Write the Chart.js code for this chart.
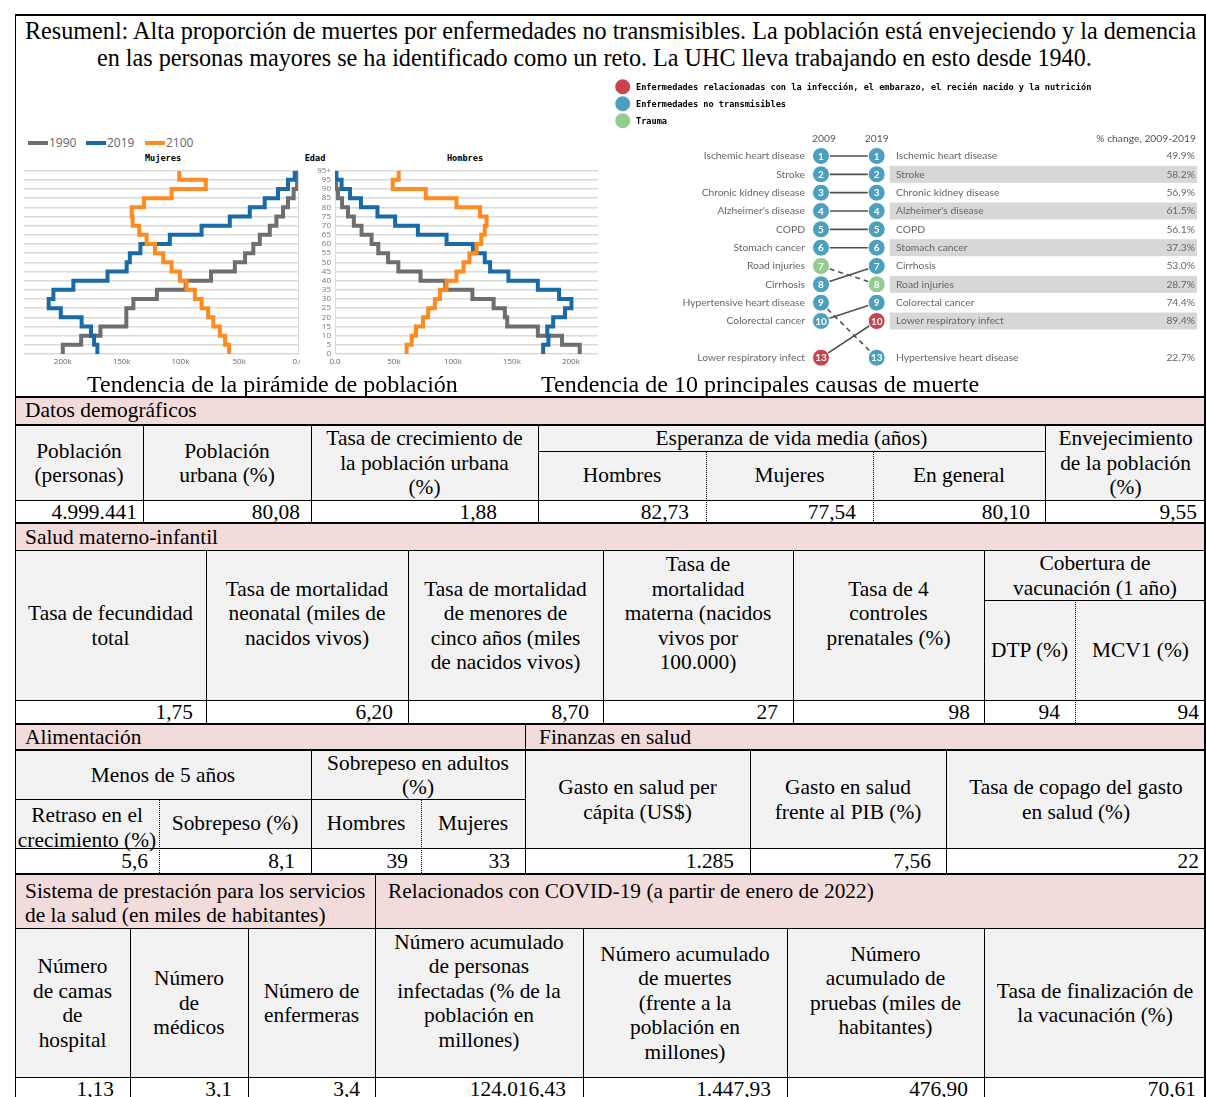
<!DOCTYPE html>
<html lang="es">
<head>
<meta charset="utf-8">
<title>Resumen de salud</title>
<script src="https://cdn.jsdelivr.net/npm/chart.js@4.4.1/dist/chart.umd.min.js"></script>
<style>
  html, body { margin: 0; padding: 0; background: #fff; }
  body { width: 1206px; height: 1097px; position: relative; overflow: hidden;
         font-family: "Liberation Serif", "Times New Roman", serif; color: #000; }
  .abs { position: absolute; }
  .cell { position: absolute; display: flex; align-items: center; justify-content: center;
          text-align: center; font-size: 21.4px; line-height: 24.5px; }
  .val { position: absolute; font-size: 21.4px; text-align: right; white-space: nowrap; }
  .sec { position: absolute; font-size: 21.4px; line-height: 23.5px; white-space: nowrap; }
  .ttl { position: absolute; white-space: nowrap; line-height: 27px; }
  .cap { position: absolute; font-size: 24px; white-space: nowrap; line-height: 24px; }
  .pix { position: absolute; font: bold 8.6px "DejaVu Sans Mono", monospace; text-align: center; }
  .lgt { position: absolute; font: 12px "Open Sans", sans-serif; color: #666; line-height: 14px; }
  .sw { position: absolute; width: 20px; height: 4px; }
  .chart { position: absolute; }
</style>
</head>
<body>
<div id="tbl"></div>

<!-- population pyramid -->
<div class="sw" style="left:28px;top:141px;background:#6e6e6e"></div>
<div class="lgt" style="left:49px;top:136px">1990</div>
<div class="sw" style="left:86px;top:141px;background:#1a6aa8"></div>
<div class="lgt" style="left:107px;top:136px">2019</div>
<div class="sw" style="left:145px;top:141px;background:#ff8a1f"></div>
<div class="lgt" style="left:166px;top:136px">2100</div>
<div class="pix" style="left:123px;top:153px;width:80px">Mujeres</div>
<div class="pix" style="left:295px;top:153px;width:40px">Edad</div>
<div class="pix" style="left:425px;top:153px;width:80px">Hombres</div>
<div class="chart" style="left:20px;top:160px;width:280px;height:212px"><canvas id="pyrF"></canvas></div>
<div class="chart" style="left:300px;top:160px;width:300px;height:212px"><canvas id="pyrM"></canvas></div>

<!-- top causes of death -->
<div class="chart" style="left:600px;top:75px;width:606px;height:297px"><canvas id="bump"></canvas></div>

<div class="cap" style="left:87px;top:372px">Tendencia de la pirámide de población</div>
<div class="cap" style="left:541px;top:372px">Tendencia de 10 principales causas de muerte</div>

<script>
// ---------- data ----------
const titleLines = [
  'Resumenl: Alta proporción de muertes por enfermedades no transmisibles. La población está envejeciendo y la demencia',
  'en las personas mayores se ha identificado como un reto. La UHC lleva trabajando en esto desde 1940.'
];

// age bands 0-4 ... 90-94, 95+ (thousands of people)
const ageLabels = ['0', '5', '10', '15', '20', '25', '30', '35', '40', '45', '50',
  '55', '60', '65', '70', '75', '80', '85', '90', '95', '95+'];
const women1990 = [200, 184.4, 168, 146, 146, 140, 120, 95.6, 74, 53.7, 45, 38, 32.5, 24, 18.4, 12.7, 8.5, 3.7, 0.8, 0];
const women2019 = [170.6, 173.4, 176, 184, 201.7, 212, 208, 191, 162, 145.7, 143, 134, 109, 82, 58, 41, 28.3, 17, 8.5, 2.8];
const women2100 = [58.6, 62, 66.5, 72, 76.4, 82, 87.7, 94.8, 100.4, 107.5, 114.6, 121.6, 128.7, 135, 140.6, 141.4, 131, 107.5, 78.4, 101];
const men1990 = [207.5, 192.5, 172, 146, 144, 134.5, 116.5, 93.5, 72.5, 53.7, 45, 36.7, 31, 22.5, 16, 11, 6, 2.5, 1, 0.3];
const men2019 = [176.5, 181, 180, 185, 195, 200.5, 190, 172, 147, 131.5, 127, 117, 94.6, 70.3, 51, 36, 22, 12.7, 5.6, 1.2];
const men2100 = [60.7, 65, 68.6, 74.6, 79, 84.7, 89, 94.6, 103, 109, 114, 120, 124, 127, 128.5, 123, 103, 77, 49, 54];

const causes = ['Ischemic heart disease', 'Stroke', 'Chronic kidney disease', "Alzheimer's disease", 'COPD',
  'Stomach cancer', 'Road injuries', 'Cirrhosis', 'Hypertensive heart disease', 'Colorectal cancer',
  'Lower respiratory infect'];
const rank2009 = [1, 2, 3, 4, 5, 6, 7, 8, 9, 10, 13];
const rank2019 = [1, 2, 3, 4, 5, 6, 8, 7, 13, 9, 10];
const causeGroup = ['ncd', 'ncd', 'ncd', 'ncd', 'ncd', 'ncd', 'trauma', 'ncd', 'ncd', 'ncd', 'infect'];
const pctChange = ['49.9%', '58.2%', '56.9%', '61.5%', '56.1%', '37.3%', '28.7%', '53.0%', '22.7%', '74.4%', '89.4%'];
const groupLabels = [
  ['infect', 'Enfermedades relacionadas con la infección, el embarazo, el recién nacido y la nutrición'],
  ['ncd', 'Enfermedades no transmisibles'],
  ['trauma', 'Trauma']
];

// ---------- table ----------
const layer = document.getElementById('tbl');
const PINK = '#f2dcdb', GREY = '#f2f2f2';

function box(x, y, w, h, css, cls) {
  const d = document.createElement('div');
  d.className = cls || 'abs';
  d.style.cssText = `left:${x}px;top:${y}px;width:${w}px;height:${h}px;` + (css || '');
  layer.appendChild(d);
  return d;
}
const fill = (x1, x2, y1, y2, c) => box(x1, y1, x2 - x1, y2 - y1, `background:${c}`);
const hl = (x1, x2, y, t = 1) => box(x1, y - t / 2, x2 - x1, t, 'background:#000');
const vl = (x, y1, y2, t = 1) => box(x - t / 2, y1, t, y2 - y1, 'background:#000');
const dl = (x, y1, y2) => box(x, y1, 0, y2 - y1, 'border-left:1px dotted #000');
function head(x1, x2, y1, y2, html) {
  box(x1, y1, x2 - x1, y2 - y1, '', 'cell').innerHTML = html;
}
function num(right, y1, y2, text) {
  box(right - 200, y1, 200, y2 - y1, `line-height:${y2 - y1}px`, 'val').textContent = text;
}
function sec(x, y, html) {
  box(x, y, 0, 0, '', 'sec').innerHTML = html;
}

// title
const mctx = document.createElement('canvas').getContext('2d');
mctx.font = '100px "Liberation Serif"';
const titleSize = 100 * 1173 / mctx.measureText(titleLines[0]).width;
box(25, 17, 0, 0, `font-size:${titleSize}px`, 'ttl').textContent = titleLines[0];
box(97, 44, 0, 0, `font-size:${titleSize}px`, 'ttl').textContent = titleLines[1];

// backgrounds
fill(15, 1206, 397, 425, PINK);
fill(15, 1206, 425, 500, GREY);
fill(15, 1206, 523, 551, PINK);
fill(15, 1206, 551, 700, GREY);
fill(15, 1206, 723, 750, PINK);
fill(15, 1206, 750, 848, GREY);
fill(15, 1206, 873, 928, PINK);
fill(15, 1206, 928, 1077, GREY);

// Datos demograficos
sec(25, 399, 'Datos demográficos');
head(15, 143, 426, 500, 'Población<br>(personas)');
head(143, 311, 426, 500, 'Población<br>urbana (%)');
head(311, 538, 426, 500, 'Tasa de crecimiento de<br>la población urbana<br>(%)');
head(538, 1045, 426, 451, 'Esperanza de vida media (años)');
head(538, 706, 451, 500, 'Hombres');
head(706, 873, 451, 500, 'Mujeres');
head(873, 1045, 451, 500, 'En general');
head(1045, 1206, 426, 500, 'Envejecimiento<br>de la población<br>(%)');
[[137, '4.999.441'], [300, '80,08'], [497, '1,88'], [689, '82,73'], [856, '77,54'], [1030, '80,10'], [1197, '9,55']]
  .forEach(([r, t]) => num(r, 501, 523, t));

// Salud materno-infantil
sec(25, 526, 'Salud materno-infantil');
head(15, 206, 551, 700, 'Tasa de fecundidad<br>total');
head(206, 408, 551, 700, 'Tasa de mortalidad<br>neonatal (miles de<br>nacidos vivos)<br>&nbsp;');
head(408, 603, 551, 700, 'Tasa de mortalidad<br>de menores de<br>cinco años (miles<br>de nacidos vivos)');
head(603, 793, 551, 700, 'Tasa de<br>mortalidad<br>materna (nacidos<br>vivos por<br>100.000)<br>&nbsp;');
head(793, 984, 551, 700, 'Tasa de 4<br>controles<br>prenatales (%)<br>&nbsp;');
head(984, 1206, 551, 600, 'Cobertura de<br>vacunación (1 año)');
head(984, 1075, 600, 700, 'DTP (%)');
head(1075, 1206, 600, 700, 'MCV1 (%)');
[[193, '1,75'], [393, '6,20'], [589, '8,70'], [778, '27'], [970, '98'], [1060, '94'], [1199, '94']]
  .forEach(([r, t]) => num(r, 701, 723, t));

// Alimentacion / Finanzas
sec(25, 726, 'Alimentación');
sec(539, 726, 'Finanzas en salud');
head(15, 311, 751, 799, 'Menos de 5 años');
head(311, 525, 751, 799, 'Sobrepeso en adultos<br>(%)');
head(15, 159, 799, 856, 'Retraso en el<br>crecimiento (%)');
head(159, 311, 799, 848, 'Sobrepeso (%)');
head(311, 421, 799, 848, 'Hombres');
head(421, 525, 799, 848, 'Mujeres');
head(525, 750, 751, 848, 'Gasto en salud per<br>cápita (US$)');
head(750, 946, 751, 848, 'Gasto en salud<br>frente al PIB (%)');
head(946, 1206, 751, 848, 'Tasa de copago del gasto<br>en salud (%)');
[[148, '5,6'], [295, '8,1'], [408, '39'], [510, '33'], [734, '1.285'], [931, '7,56'], [1199, '22']]
  .forEach(([r, t]) => num(r, 849, 873, t));

// Sistema / COVID-19
sec(25, 880, 'Sistema de prestación para los servicios<br>de la salud (en miles de habitantes)');
sec(388, 880, 'Relacionados con COVID-19 (a partir de enero de 2022)');
head(15, 130, 929, 1077, 'Número<br>de camas<br>de<br>hospital');
head(130, 248, 929, 1077, 'Número<br>de<br>médicos');
head(248, 375, 929, 1077, 'Número de<br>enfermeras');
head(375, 583, 929, 1077, 'Número acumulado<br>de personas<br>infectadas (% de la<br>población en<br>millones)<br>&nbsp;');
head(583, 787, 929, 1077, 'Número acumulado<br>de muertes<br>(frente a la<br>población en<br>millones)');
head(787, 984, 929, 1077, 'Número<br>acumulado de<br>pruebas (miles de<br>habitantes)<br>&nbsp;');
head(984, 1206, 929, 1077, 'Tasa de finalización de<br>la vacunación (%)');
[[114, '1,13'], [232, '3,1'], [360, '3,4'], [566, '124.016,43'], [771, '1.447,93'], [968, '476,90'], [1196, '70,61']]
  .forEach(([r, t]) => num(r, 1078, 1101, t));

// rules
hl(15, 1206, 15, 2);
vl(15.5, 14, 1097, 1.5);
vl(1205, 14, 1097, 1.5);
hl(15, 1206, 397, 2);
hl(15, 1206, 425, 1.5);
hl(538, 1045, 451, 1);
hl(15, 1206, 500.5, 1);
[143, 311, 538, 1045].forEach(x => vl(x, 425, 523));
dl(706, 451, 523); dl(873, 451, 523);
hl(15, 1206, 523, 2);
hl(15, 1206, 550.5, 1.5);
hl(984, 1206, 600, 1);
hl(15, 1206, 700.5, 1);
[206, 408, 603, 793, 984].forEach(x => vl(x, 550, 723));
dl(1075, 600, 723);
hl(15, 1206, 723.5, 2);
vl(525, 723, 750);
hl(15, 1206, 750, 1.5);
hl(15, 525, 799, 1);
hl(15, 1206, 848.5, 1);
[311, 525, 750, 946].forEach(x => vl(x, 750, 873));
dl(159, 799, 873); dl(421, 799, 873);
hl(15, 1206, 873.5, 2);
vl(375, 873, 928);
hl(15, 1206, 928.5, 1.5);
hl(15, 1206, 1077.5, 1);
[130, 248, 375, 583, 787, 984].forEach(x => vl(x, 928, 1097));

// ---------- population pyramid ----------
const GRAY = '#6e6e6e', BLUE = '#1a6aa8', ORANGE = '#ff8a1f';

// one point per band start, plus a closing point at the top of the last band
function steps(vals) {
  const pts = vals.map((v, i) => ({ x: v, y: i }));
  pts.push({ x: vals[vals.length - 1], y: vals.length });
  return pts;
}

function pyramidConfig(series, side) {
  const left = side === 'F';
  return {
    type: 'line',
    data: {
      datasets: [
        { label: '1990', data: steps(series[0]), borderColor: GRAY, order: 2 },
        { label: '2019', data: steps(series[1]), borderColor: BLUE, order: 1 },
        { label: '2100', data: steps(series[2]), borderColor: ORANGE, order: 0 }
      ]
    },
    options: {
      responsive: true,
      maintainAspectRatio: false,
      animation: false,
      layout: { padding: left ? { left: 4, right: 2, top: 10.7, bottom: 0 } : { left: 0, right: 2, top: 10.7, bottom: 0 } },
      elements: {
        point: { radius: 0, hoverRadius: 0 },
        line: { borderWidth: 4, stepped: 'after', borderJoinStyle: 'miter', borderCapStyle: 'butt', tension: 0 }
      },
      plugins: { legend: { display: false }, tooltip: { enabled: false } },
      scales: {
        x: {
          type: 'linear',
          reverse: left,
          min: 0,
          max: left ? 233 : 223,
          grid: { display: false, drawTicks: false },
          border: { display: false },
          ticks: {
            stepSize: 50,
            includeBounds: false,
            autoSkip: false,
            maxRotation: 0,
            padding: 3,
            color: '#666',
            font: { family: 'Open Sans', size: 8 },
            callback: v => (v === 0 ? '0.0' : v + 'k')
          },
          // fixed axis height; let the end labels spill (and clip) at the canvas edge
          afterFit: s => { s.height = 18; s.paddingLeft = 0; s.paddingRight = 0; }
        },
        y: {
          type: 'linear',
          position: left ? 'right' : 'left',
          min: 0,
          max: 20,
          grid: { color: '#dadada', lineWidth: 1.5, drawTicks: false },
          border: { display: true, color: '#dadada' },
          ticks: {
            display: !left,
            stepSize: 1,
            autoSkip: false,
            padding: 4,
            color: '#777',
            font: { family: 'Open Sans', size: 8 },
            callback: v => ageLabels[v]
          },
          afterFit: s => { s.width = left ? 0 : 35; }
        }
      }
    }
  };
}

new Chart(document.getElementById('pyrF'), pyramidConfig([women1990, women2019, women2100], 'F'));
new Chart(document.getElementById('pyrM'), pyramidConfig([men1990, men2019, men2100], 'M'));

// ---------- top causes of death ----------
const groupColor = { infect: '#c9424c', ncd: '#4d9fbe', trauma: '#93cb91' };
// ranks beyond 10 sit one blank row below the top ten
const rowOf = r => (r > 10 ? 12 : r);
const byRank2019 = causes.map((c, i) => i).sort((a, b) => rank2019[a] - rank2019[b]);

const circleData = [], circleColors = [], circleNums = [];
causes.forEach((c, i) => {
  circleData.push({ x: 2009, y: rowOf(rank2009[i]) }, { x: 2019, y: rowOf(rank2019[i]) });
  circleColors.push(groupColor[causeGroup[i]], groupColor[causeGroup[i]]);
  circleNums.push(rank2009[i], rank2019[i]);
});

const lineSets = causes.map((c, i) => ({
  label: c,
  data: [{ x: 2009, y: rowOf(rank2009[i]) }, { x: 2019, y: rowOf(rank2019[i]) }],
  showLine: true,
  borderColor: '#505050',
  borderWidth: 1.6,
  borderDash: rank2019[i] > rank2009[i] ? [5, 4] : [],
  pointRadius: 0,
  clip: false,
  order: 1
}));

const LBL_FONT = '10.3px Lato, "Open Sans", sans-serif';

const bumpText = {
  id: 'bumpText',
  beforeDatasetsDraw(chart) {
    const { ctx, width, scales: { x, y } } = chart;
    const x19 = x.getPixelForValue(2019);
    ctx.save();
    ctx.fillStyle = '#d7d7d7';
    byRank2019.forEach((i, pos) => {
      if (pos % 2 === 1) {
        const py = y.getPixelForValue(rowOf(rank2019[i]));
        ctx.fillRect(x19 + 13, py - 8.5, width - 9 - (x19 + 13), 17);
      }
    });
    ctx.restore();
  },
  afterDatasetsDraw(chart) {
    const { ctx } = chart;
    const pts = chart.getDatasetMeta(0).data;
    ctx.save();
    ctx.fillStyle = '#fff';
    ctx.font = 'bold 10px Lato, sans-serif';
    ctx.textAlign = 'center';
    ctx.textBaseline = 'middle';
    pts.forEach((p, k) => ctx.fillText(String(circleNums[k]), p.x, p.y + 0.5));
    ctx.restore();
  },
  afterDraw(chart) {
    const { ctx, width, scales: { x, y } } = chart;
    const x09 = x.getPixelForValue(2009), x19 = x.getPixelForValue(2019);
    ctx.save();
    // legend
    ctx.textBaseline = 'middle';
    ctx.textAlign = 'left';
    ctx.font = 'bold 8.6px "DejaVu Sans Mono", monospace';
    groupLabels.forEach(([g, text], k) => {
      const cy = 11.7 + k * 17;
      ctx.fillStyle = groupColor[g];
      ctx.beginPath();
      ctx.arc(22.7, cy, 7.5, 0, Math.PI * 2);
      ctx.fill();
      ctx.fillStyle = '#000';
      ctx.fillText(text, 36, cy + 1);
    });
    // column heads
    ctx.font = LBL_FONT;
    ctx.fillStyle = '#555';
    ctx.textAlign = 'center';
    ctx.fillText('2009', x09 + 3, 63.5);
    ctx.fillText('2019', x19, 63.5);
    ctx.textAlign = 'right';
    ctx.fillText('% change, 2009-2019', width - 10, 63.5);
    // names
    ctx.fillStyle = '#666';
    causes.forEach((c, i) => {
      ctx.textAlign = 'right';
      ctx.fillText(c, x09 - 16, y.getPixelForValue(rowOf(rank2009[i])));
      const py = y.getPixelForValue(rowOf(rank2019[i]));
      ctx.textAlign = 'left';
      ctx.fillText(c, x19 + 19.3, py);
      ctx.textAlign = 'right';
      ctx.fillText(pctChange[i], width - 11, py);
    });
    ctx.restore();
  }
};

new Chart(document.getElementById('bump'), {
  type: 'scatter',
  data: {
    datasets: [
      {
        label: 'rank',
        data: circleData,
        pointRadius: 8.5,
        pointHoverRadius: 8.5,
        pointBackgroundColor: circleColors,
        pointBorderColor: '#fff',
        pointBorderWidth: 1,
        showLine: false,
        clip: false,
        order: 0
      },
      ...lineSets
    ]
  },
  options: {
    responsive: true,
    maintainAspectRatio: false,
    animation: false,
    layout: { padding: { left: 221, right: 329.3, top: 81, bottom: 14.3 } },
    plugins: { legend: { display: false }, tooltip: { enabled: false } },
    scales: {
      x: { type: 'linear', min: 2009, max: 2019, display: false },
      y: { type: 'linear', min: 1, max: 12, reverse: true, display: false }
    }
  },
  plugins: [bumpText]
});
</script>
</body>
</html>
